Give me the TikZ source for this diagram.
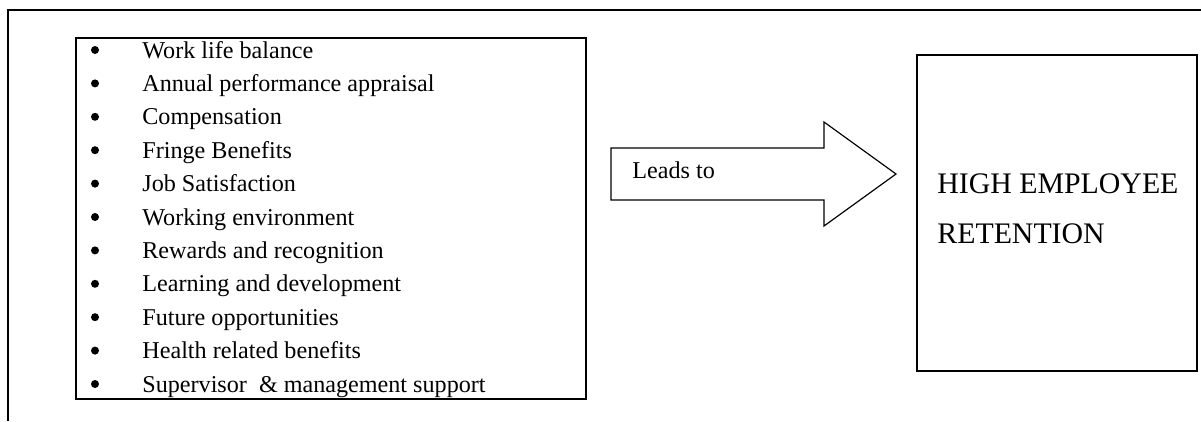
\documentclass[tikz,border=0pt]{standalone}
\usepackage{fontspec}
\setmainfont{Liberation Serif}
\tikzset{
  frameline/.style={line width=0.8pt},
  boxline/.style={draw, line width=0.9pt},
  itemtext/.style={anchor=base west, inner sep=0pt, font=\fontsize{12.3}{14}\selectfont},
  bulletdot/.style={circle, fill, inner sep=0pt, minimum size=8*0.5096pt},
  bigtext/.style={anchor=base west, inner sep=0pt, font=\fontsize{15.2}{18}\selectfont},
}
\begin{document}
\begin{tikzpicture}[x=0.5096pt,y=-0.5096pt]
\useasboundingbox (0,0) rectangle (1201,421);
% outer frame (top and left only visible)
\coordinate (ftr) at (1201,10);
\coordinate (ftl) at (8,10);
\coordinate (fbl) at (8,421);
\draw[frameline] (ftr) -- (ftl) -- (fbl);
% left box of factors
\node[boxline, anchor=north west, minimum width=510*0.5096pt, minimum height=361*0.5096pt, inner sep=0pt] (factors) at (75,37) {};
\foreach \t [count=\i] in {Work life balance, Annual performance appraisal, Compensation, Fringe Benefits, Job Satisfaction, Working environment, Rewards and recognition, Learning and development, Future opportunities, Health related benefits, Supervisor \ \& management support}{
  \node[bulletdot] (bul\i) at (95,{58+(\i-1)*33.4-8}) {};
  \node[itemtext] (item\i) at (142,{58+(\i-1)*33.4}) {\t};
}
% block arrow
\draw[line width=0.6pt] (611,148) -- (824,148) -- (824,122) -- (896,174) -- (824,226) -- (824,200) -- (611,200) -- cycle;
\node[itemtext] (leads) at (632,178) {Leads to};
% right box
\node[boxline, anchor=north west, minimum width=280*0.5096pt, minimum height=316*0.5096pt, inner sep=0pt] (retention) at (916,54) {};
\node[bigtext] (high) at (937,193) {HIGH EMPLOYEE};
\node[bigtext] (ret) at (937,243) {RETENTION};
\end{tikzpicture}
\end{document}
